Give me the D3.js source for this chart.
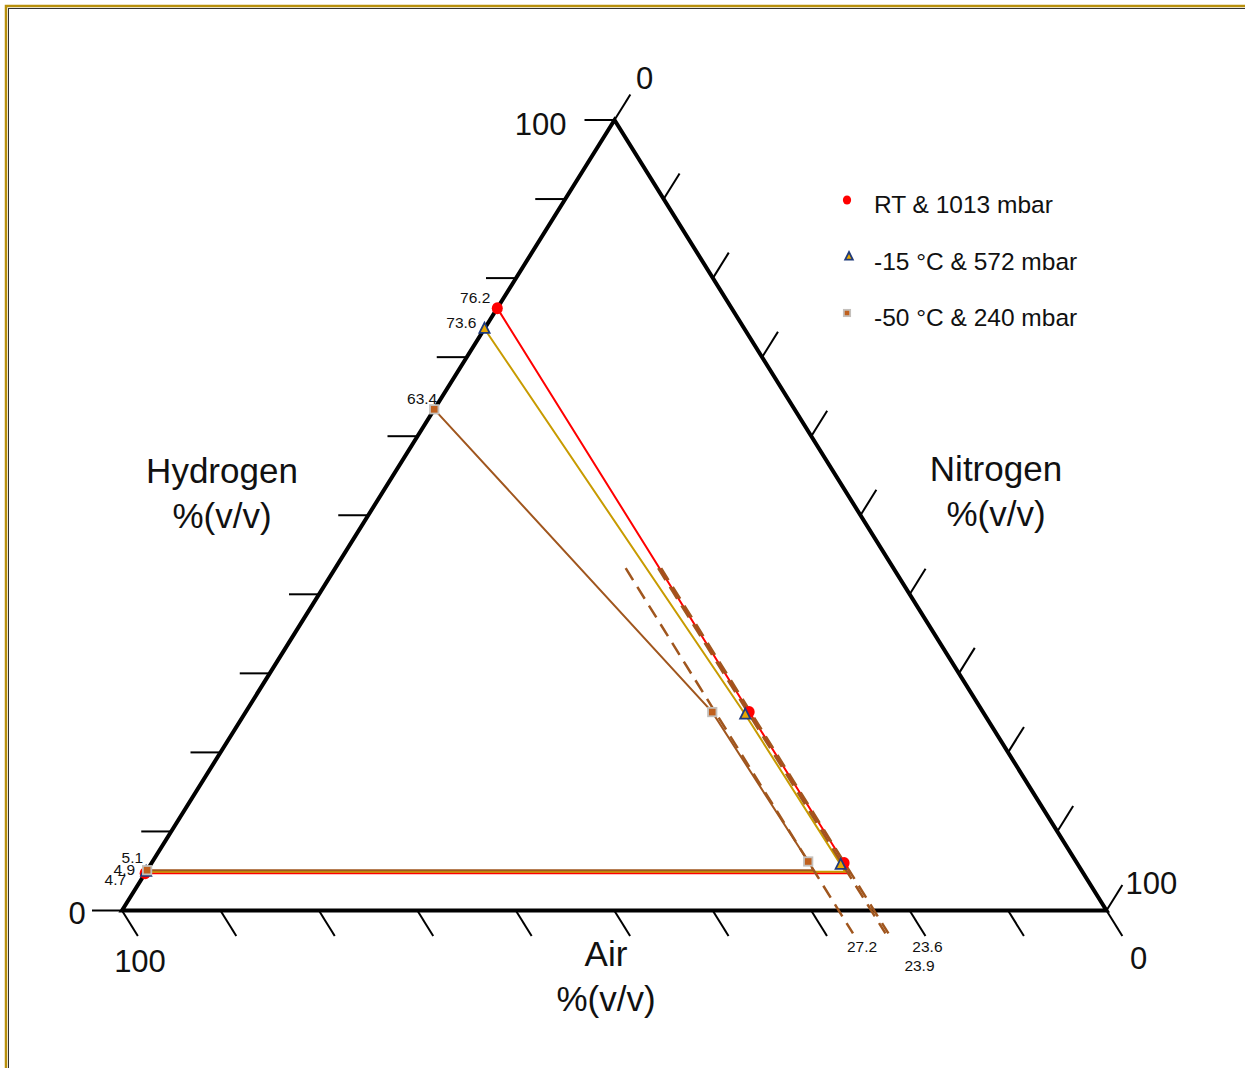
<!DOCTYPE html>
<html>
<head>
<meta charset="utf-8">
<script src="https://cdn.jsdelivr.net/npm/d3@7/dist/d3.min.js"></script>
<style>
  body { margin: 0; background: #fff; }
  svg { display: block; }
  text { font-family: "Liberation Sans", Arial, sans-serif; fill: #111; }
</style>
</head>
<body>
<svg id="chart" width="1245" height="1068"></svg>
<script>
// ---- data: hydrogen / nitrogen / air flammability envelopes, % (v/v) ----
const seriesNames   = ["RT & 1013 mbar", "-15 °C & 572 mbar", "-50 °C & 240 mbar"];
const uflHydrogen   = [76.2, 73.6, 63.4];   // upper limit in air (no added N2)
const lflHydrogen   = [4.7, 4.9, 5.1];      // lower limit in air (no added N2)
const midHydrogen   = [25.1, 24.8, 25.1];   // envelope point at ~25 % H2
const midAir        = [23.75, 24.3, 27.5];
const noseHydrogen  = [6.0, 5.8, 6.2];      // envelope nose
const noseAir       = [23.65, 24.1, 27.2];
const limitAir      = [23.6, 23.9, 27.2];   // limiting air concentration (dashed)
const limitLabels   = ["23.6", "23.9", "27.2"];
const uflLabels     = ["76.2", "73.6", "63.4"];
const lflLabels     = ["4.7", "4.9", "5.1"];
const axisTicks     = [0, 10, 20, 30, 40, 50, 60, 70, 80, 90, 100];
const limitSpan     = [43.3, -2.9];         // hydrogen range covered by the dashed lines

// ---- layout ----
const TOP = [614.5, 120], BL = [122, 910.5], BR = [1106.5, 910.5];
const svg = d3.select("#chart");

// hydrogen -> vertical position, air -> position along the base,
// hydrogen also shears the point towards the apex
const yH   = d3.scaleLinear().domain([0, 100]).range([BL[1], TOP[1]]);
const xAir = d3.scaleLinear().domain([100, 0]).range([BL[0], BR[0]]);
const shear = d3.scaleLinear().domain([0, 100]).range([0, TOP[0] - BR[0]]);
const pt = (h, a) => [xAir(a) + shear(h), yH(h)];          // point from H2 and air
const ptN = (h, n) => pt(h, 100 - h - n);                    // point from H2 and N2

const colors  = ["#FF0000", "#C89B00", "#A0561E"];
const dashCol = "#A0561E";

// frame
svg.append("rect").attr("x", 6).attr("y", 6).attr("width", 1260).attr("height", 1090)
  .attr("fill", "none").attr("stroke", "#B8900C").attr("stroke-width", 2.5);
svg.append("rect").attr("x", 8.5).attr("y", 8.5).attr("width", 1260).attr("height", 1090)
  .attr("fill", "none").attr("stroke", "#333").attr("stroke-width", 1);

const line = d3.line();
const unit = (p, q) => { const dx = q[0] - p[0], dy = q[1] - p[1], l = Math.hypot(dx, dy); return [dx / l, dy / l]; };
const uLeft  = unit(BL, TOP);   // direction of constant-N2 lines
const uRight = unit(TOP, BR);   // direction of constant-air lines
const TL = 30;

const ticks = svg.append("g").attr("stroke", "#000").attr("stroke-width", 2);
axisTicks.forEach(v => {
  // hydrogen on the left side
  const ph = ptN(v, 0);
  ticks.append("path").attr("d", line([ph, [ph[0] - TL, ph[1]]]));
  // nitrogen on the right side
  const pn = ptN(100 - v, v);
  ticks.append("path").attr("d", line([pn, [pn[0] + uLeft[0] * TL, pn[1] + uLeft[1] * TL]]));
  // air on the base
  const pa = pt(0, v);
  ticks.append("path").attr("d", line([pa, [pa[0] + uRight[0] * TL, pa[1] + uRight[1] * TL]]));
});

// triangle frame
svg.append("path")
  .attr("d", line([ptN(100, 0), ptN(0, 0), ptN(0, 100)]) + "Z")
  .attr("fill", "none").attr("stroke", "#000").attr("stroke-width", 4).attr("stroke-linejoin", "miter");

// axis end labels
const endLabels = svg.append("g").style("font-size", "31px");
const hTop = ptN(100, 0), hBot = ptN(0, 0), nEnd = ptN(0, 100);
endLabels.append("text").attr("x", hTop[0] - TL - 18).attr("y", hTop[1] + 15).attr("text-anchor", "end").text("100");
endLabels.append("text").attr("x", hTop[0] + 30).attr("y", hTop[1] - 31).attr("text-anchor", "middle").text("0");
endLabels.append("text").attr("x", nEnd[0] + 19).attr("y", nEnd[1] - 17).attr("text-anchor", "start").text("100");
endLabels.append("text").attr("x", nEnd[0] + 32).attr("y", nEnd[1] + 58).attr("text-anchor", "middle").text("0");
endLabels.append("text").attr("x", hBot[0] - 45).attr("y", hBot[1] + 13).attr("text-anchor", "middle").text("0");
endLabels.append("text").attr("x", hBot[0] + 18).attr("y", hBot[1] + 61).attr("text-anchor", "middle").text("100");

// axis titles
const titles = svg.append("g").style("font-size", "35px").attr("text-anchor", "middle");
[["Hydrogen", 222, 483], ["%(v/v)", 222, 528],
 ["Nitrogen", 996, 481], ["%(v/v)", 996, 526],
 ["Air", 606, 966], ["%(v/v)", 606, 1011]].forEach(([t, x, y]) =>
  titles.append("text").attr("x", x).attr("y", y).text(t));

// envelopes: UFL in air -> mid -> nose -> corner on LFL -> LFL in air
seriesNames.forEach((s, i) => {
  const path = [
    ptN(uflHydrogen[i], 0),
    pt(midHydrogen[i], midAir[i]),
    pt(noseHydrogen[i], noseAir[i]),
    pt(lflHydrogen[i], noseAir[i]),
    ptN(lflHydrogen[i], 0)
  ];
  svg.append("path").attr("d", line(path))
    .attr("fill", "none").attr("stroke", colors[i]).attr("stroke-width", 2);
});

// limiting-air dashed lines (drawn over the envelopes)
limitAir.forEach(a => {
  svg.append("path")
    .attr("d", line([pt(limitSpan[0], a), pt(limitSpan[1], a)]))
    .attr("stroke", dashCol).attr("stroke-width", 2.5).attr("stroke-dasharray", "14,8")
    .attr("fill", "none");
});

// markers
function marker(g, i, p, s) {
  if (i === 0) {
    g.append("ellipse").attr("cx", p[0]).attr("cy", p[1]).attr("rx", 5.5 * s).attr("ry", 6 * s).attr("fill", "#FF0000");
  } else if (i === 1) {
    const r = 6 * s;
    g.append("path")
      .attr("d", `M${p[0]},${p[1] - r} L${p[0] + r * 0.85},${p[1] + r * 0.7} L${p[0] - r * 0.85},${p[1] + r * 0.7}Z`)
      .attr("fill", "#E8A800").attr("stroke", "#1F3A7A").attr("stroke-width", 1.8);
  } else {
    const r = 4.2 * s;
    g.append("rect").attr("x", p[0] - r).attr("y", p[1] - r).attr("width", 2 * r).attr("height", 2 * r)
      .attr("fill", "#C0601E").attr("stroke", "#C4C0BC").attr("stroke-width", 1.8);
  }
}
const marks = svg.append("g");
seriesNames.forEach((s, i) => {
  [ptN(uflHydrogen[i], 0), pt(midHydrogen[i], midAir[i]),
   pt(noseHydrogen[i], noseAir[i]), ptN(lflHydrogen[i], 0)].forEach(p => marker(marks, i, p, 1));
});

// value labels
const small = svg.append("g").style("font-size", "15.5px");
const uflNudge = [[-7, -5], [-8, -1], [3, -5]];
uflLabels.forEach((t, i) => {
  const p = ptN(uflHydrogen[i], 0);
  small.append("text").attr("x", p[0] + uflNudge[i][0]).attr("y", p[1] + uflNudge[i][1])
    .attr("text-anchor", "end").text(t);
});
const lflNudge = [[-19, 12], [-11, 3], [-4, -7]];
lflLabels.forEach((t, i) => {
  const p = ptN(lflHydrogen[i], 0);
  small.append("text").attr("x", p[0] + lflNudge[i][0]).attr("y", p[1] + lflNudge[i][1])
    .attr("text-anchor", "end").text(t);
});
const limNudge = [[39, 19], [34, 38], [9, 19]];
limitLabels.forEach((t, i) => {
  const p = pt(limitSpan[1], limitAir[i]);
  small.append("text").attr("x", p[0] + limNudge[i][0]).attr("y", p[1] + limNudge[i][1])
    .attr("text-anchor", "middle").text(t);
});

// legend
const legend = svg.append("g").style("font-size", "24.5px");
seriesNames.forEach((s, i) => {
  const y = 200 + i * 56.5;
  marker(legend, i, [i === 1 ? 849 : 847, y], 0.75);
  legend.append("text").attr("x", 874).attr("y", y + 13).text(s);
});
</script>
</body>
</html>
